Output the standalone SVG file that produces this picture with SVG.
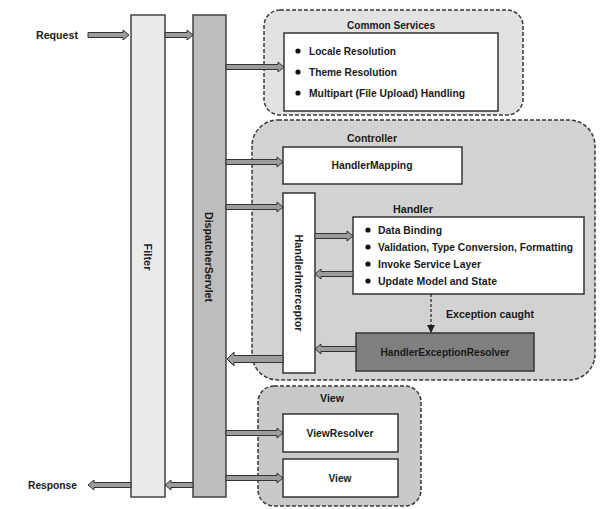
<svg xmlns="http://www.w3.org/2000/svg" width="608" height="509" viewBox="0 0 608 509">
<style>
text{font-family:"Liberation Sans",Arial,sans-serif;font-weight:bold;font-size:11px;fill:#1a1a1a;dominant-baseline:central}
.c{text-anchor:middle}
.grp{stroke:#3a3a3a;stroke-width:1.5;stroke-dasharray:4 2}
.box{fill:#fff;stroke:#333;stroke-width:1.5}
.bar{stroke:#444;stroke-width:1.5}
.arr{fill:#9c9c9c;stroke:#333;stroke-width:1;stroke-linejoin:miter}
.dot{fill:#111}
</style>
<defs>
<marker id="ah" markerWidth="8" markerHeight="8" refX="7" refY="4" orient="auto" markerUnits="userSpaceOnUse">
<path d="M0,0 L8,4 L0,8 Z" fill="#222"/>
</marker>
</defs>
<rect width="608" height="509" fill="#fff"/>

<g id="common-services">
<rect class="grp" x="264" y="10" width="259" height="105" rx="16" fill="#e2e2e2"/>
<text class="c" x="391" y="25" textLength="88" lengthAdjust="spacingAndGlyphs">Common Services</text>
<rect class="box" x="284" y="33" width="214" height="78"/>
<circle class="dot" cx="298" cy="51" r="2.6"/><text x="309" y="51" textLength="87" lengthAdjust="spacingAndGlyphs">Locale Resolution</text>
<circle class="dot" cx="298" cy="72" r="2.6"/><text x="309" y="72" textLength="88" lengthAdjust="spacingAndGlyphs">Theme Resolution</text>
<circle class="dot" cx="298" cy="93" r="2.6"/><text x="309" y="93" textLength="156" lengthAdjust="spacingAndGlyphs">Multipart (File Upload) Handling</text>
</g>

<g id="controller">
<rect class="grp" x="252" y="120" width="343" height="260" rx="26" fill="#d2d2d2"/>
<text class="c" x="372" y="138" textLength="50" lengthAdjust="spacingAndGlyphs">Controller</text>
</g>

<g id="handler-mapping">
<rect class="box" x="283" y="147" width="179" height="37"/>
<text class="c" x="372" y="165" textLength="81" lengthAdjust="spacingAndGlyphs">HandlerMapping</text>
</g>

<g id="handler-interceptor">
<rect class="box" x="283" y="193" width="32" height="180"/>
<text class="c" transform="translate(299,283) rotate(90)" x="0" y="0" textLength="97" lengthAdjust="spacingAndGlyphs">HandlerInterceptor</text>
</g>

<g id="handler">
<text class="c" x="413" y="209" textLength="40" lengthAdjust="spacingAndGlyphs">Handler</text>
<rect class="box" x="353" y="217" width="231" height="77"/>
<circle class="dot" cx="368" cy="230" r="2.6"/><text x="378" y="230" textLength="64" lengthAdjust="spacingAndGlyphs">Data Binding</text>
<circle class="dot" cx="368" cy="247" r="2.6"/><text x="378" y="247" textLength="195" lengthAdjust="spacingAndGlyphs">Validation, Type Conversion, Formatting</text>
<circle class="dot" cx="368" cy="264" r="2.6"/><text x="378" y="264" textLength="103" lengthAdjust="spacingAndGlyphs">Invoke Service Layer</text>
<circle class="dot" cx="368" cy="281" r="2.6"/><text x="378" y="281" textLength="119" lengthAdjust="spacingAndGlyphs">Update Model and State</text>
</g>

<g id="handler-exception-resolver">
<rect x="356" y="333" width="178" height="38" fill="#7f7f7f" stroke="#333" stroke-width="1.5"/>
<text class="c" x="445" y="352" textLength="129" lengthAdjust="spacingAndGlyphs">HandlerExceptionResolver</text>
</g>

<g id="view-group">
<rect class="grp" x="258" y="386" width="163" height="120" rx="16" fill="#c9c9c9"/>
<text class="c" x="332" y="398" textLength="24" lengthAdjust="spacingAndGlyphs">View</text>
</g>

<g id="view-resolver">
<rect class="box" x="283" y="414" width="115" height="38"/>
<text class="c" x="340" y="433" textLength="67" lengthAdjust="spacingAndGlyphs">ViewResolver</text>
</g>

<g id="view">
<rect class="box" x="283" y="459" width="115" height="38"/>
<text class="c" x="340" y="478" textLength="23" lengthAdjust="spacingAndGlyphs">View</text>
</g>

<g id="filter">
<rect class="bar" x="131" y="15" width="34" height="482" fill="#ebebeb"/>
<text class="c" transform="translate(148,257) rotate(90)" x="0" y="0" textLength="27" lengthAdjust="spacingAndGlyphs">Filter</text>
</g>

<g id="dispatcher-servlet">
<rect class="bar" x="193" y="15" width="33" height="482" fill="#bdbdbd"/>
<text class="c" transform="translate(209,257) rotate(90)" x="0" y="0" textLength="90" lengthAdjust="spacingAndGlyphs">DispatcherServlet</text>
</g>

<g id="labels">
<text x="36" y="35" textLength="42" lengthAdjust="spacingAndGlyphs">Request</text>
<text x="28" y="485" textLength="49" lengthAdjust="spacingAndGlyphs">Response</text>
<text class="c" x="490" y="314" textLength="88" lengthAdjust="spacingAndGlyphs">Exception caught</text>
</g>

<g id="connectors">
<!-- right-pointing -->
<polygon class="arr" points="88,32.5 123,32.5 123,30 129,35 123,40 123,37.5 88,37.5"/>
<polygon class="arr" points="165,32.5 187,32.5 187,30 193,35 187,40 187,37.5 165,37.5"/>
<polygon class="arr" points="226,64.5 278,64.5 278,62 284,67 278,72 278,69.5 226,69.5"/>
<polygon class="arr" points="226,159.5 277,159.5 277,157 283,162 277,167 277,164.5 226,164.5"/>
<polygon class="arr" points="226,204.5 277,204.5 277,202 283,207 277,212 277,209.5 226,209.5"/>
<polygon class="arr" points="315,233.5 347,233.5 347,231 353,236 347,241 347,238.5 315,238.5"/>
<polygon class="arr" points="226,430.5 277,430.5 277,428 283,433 277,438 277,435.5 226,435.5"/>
<polygon class="arr" points="226,475.5 277,475.5 277,473 283,478 277,483 277,480.5 226,480.5"/>
<!-- left-pointing -->
<polygon class="arr" points="353,271.5 321,271.5 321,269 315,274 321,279 321,276.5 353,276.5"/>
<polygon class="arr" points="356,346.5 321,346.5 321,344 315,349 321,354 321,351.5 356,351.5"/>
<polygon class="arr" points="283,355.5 234,355.5 234,352 227,359 234,366 234,362.5 283,362.5"/>
<polygon class="arr" points="193,482.5 171,482.5 171,480 165,485 171,490 171,487.5 193,487.5"/>
<polygon class="arr" points="131,482.5 94,482.5 94,480 88,485 94,490 94,487.5 131,487.5"/>
<!-- dashed exception -->
<line x1="431" y1="294" x2="431" y2="332" stroke="#222" stroke-width="1.2" stroke-dasharray="3 2" marker-end="url(#ah)"/>
</g>
</svg>
